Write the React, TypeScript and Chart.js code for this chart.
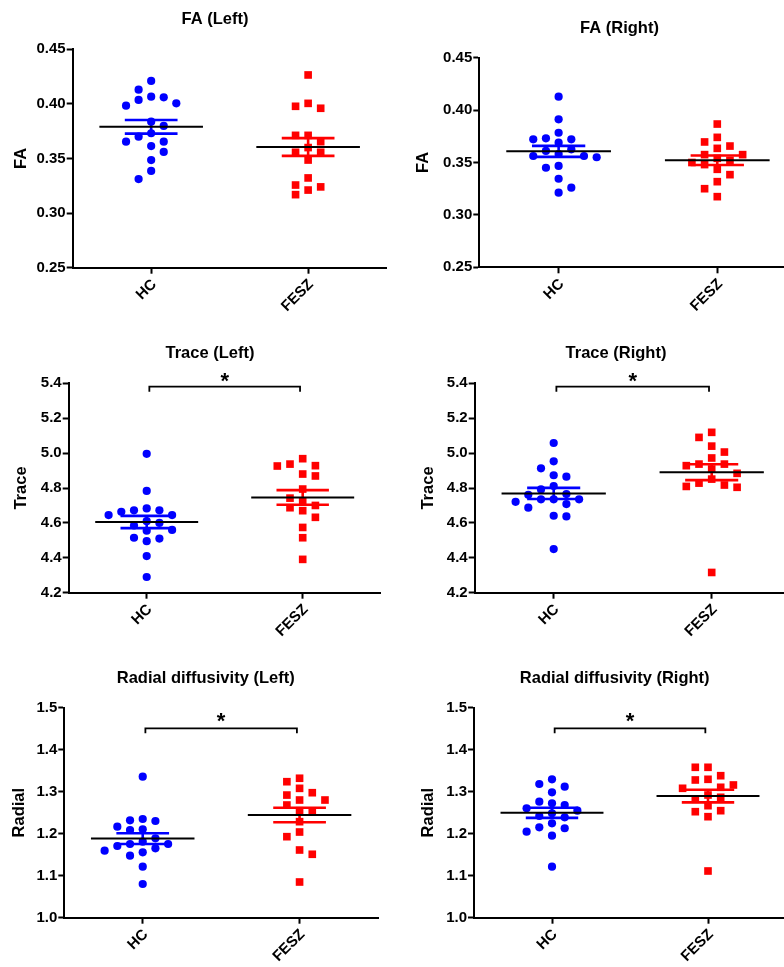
import React, { useEffect, useRef } from "react";
import { Chart, registerables } from "chart.js";

Chart.register(...registerables);
Chart.defaults.font.family = "'Liberation Sans', Arial, Helvetica, sans-serif";
Chart.defaults.color = "#000";

// ---------- data ----------
const groups = ["HC", "FESZ"];

const faLeftHC = [0.421, 0.413, 0.4066, 0.406, 0.4036, 0.4005, 0.3984, 0.3837, 0.3798, 0.3731, 0.37, 0.3654, 0.3654, 0.3614, 0.356, 0.3486, 0.3386, 0.3312];
const faLeftFESZ = [0.4265, 0.4005, 0.3978, 0.396, 0.3712, 0.3712, 0.3654, 0.36, 0.3557, 0.3557, 0.3486, 0.3322, 0.3257, 0.324, 0.3211, 0.3169];
const faRightHC = [0.4128, 0.3912, 0.3784, 0.3731, 0.3721, 0.3721, 0.3689, 0.3626, 0.361, 0.3581, 0.3562, 0.3562, 0.355, 0.3467, 0.345, 0.3345, 0.326, 0.3212];
const faRightFESZ = [0.3867, 0.374, 0.3696, 0.3657, 0.3635, 0.3575, 0.3575, 0.354, 0.352, 0.35, 0.348, 0.3435, 0.3384, 0.3317, 0.325, 0.3174];
const traceLeftHC = [4.996, 4.783, 4.683, 4.672, 4.672, 4.664, 4.645, 4.645, 4.61, 4.6, 4.585, 4.56, 4.555, 4.515, 4.51, 4.495, 4.41, 4.29];
const traceLeftFESZ = [4.968, 4.937, 4.928, 4.926, 4.88, 4.869, 4.794, 4.742, 4.725, 4.7, 4.687, 4.67, 4.632, 4.574, 4.515, 4.391];
const traceRightHC = [5.058, 4.953, 4.913, 4.873, 4.865, 4.811, 4.792, 4.765, 4.761, 4.735, 4.735, 4.735, 4.721, 4.708, 4.687, 4.641, 4.637, 4.45];
const traceRightFESZ = [5.119, 5.09, 5.04, 5.006, 4.972, 4.937, 4.937, 4.928, 4.909, 4.884, 4.851, 4.828, 4.817, 4.809, 4.804, 4.316];
const radialLeftHC = [1.3357, 1.235, 1.2319, 1.2302, 1.2167, 1.2104, 1.2088, 1.189, 1.181, 1.1755, 1.1755, 1.1707, 1.1652, 1.1595, 1.1557, 1.1476, 1.1214, 1.0802];
const radialLeftFESZ = [1.332, 1.3238, 1.308, 1.2976, 1.292, 1.2802, 1.2802, 1.2683, 1.2548, 1.2524, 1.2286, 1.204, 1.1929, 1.1612, 1.151, 1.085];
const radialRightHC = [1.3295, 1.3183, 1.312, 1.2985, 1.2762, 1.2724, 1.2683, 1.2605, 1.2548, 1.2486, 1.2421, 1.239, 1.2248, 1.2152, 1.213, 1.2048, 1.1952, 1.1214];
const radialRightFESZ = [1.3581, 1.3581, 1.3381, 1.3295, 1.3279, 1.316, 1.3105, 1.3081, 1.2921, 1.2867, 1.2819, 1.2667, 1.2548, 1.2524, 1.2405, 1.1112];

const faTicks = [0.25, 0.3, 0.35, 0.4, 0.45];
const traceTicks = [4.2, 4.4, 4.6, 4.8, 5.0, 5.2, 5.4];
const radialTicks = [1.0, 1.1, 1.2, 1.3, 1.4, 1.5];

// ---------- style / layout ----------
const BLUE = "#0000ff";
const RED = "#ff0000";
const FONT = "'Liberation Sans', Arial, Helvetica, sans-serif";
const SLOT_PX = 12.7;
const THR_PX = 9.5;
const MEAN_HALF = 0.33;
const CAP_HALF = 0.168;

type Sig = { y: number; drop: number; starY: number };
type Cfg = {
  title: string; yLabel: string; hc: number[]; fesz: number[]; ticks: number[]; dec: number;
  box: { left: number; top: number; width: number; height: number };
  plot: { left: number; top: number; right: number; bottom: number };
  titleX: number; titleY: number; yLabelX: number; sig?: Sig;
};

const traceSig: Sig = { y: 5.3805, drop: 0.0285, starY: 5.4476 };
const radialSig: Sig = { y: 1.451, drop: 0.012, starY: 1.4826 };

const panels: Cfg[] = [
  { title: "FA (Left)", yLabel: "FA", hc: faLeftHC, fesz: faLeftFESZ, ticks: faTicks, dec: 2,
    box: { left: 0, top: 0, width: 392, height: 320 }, plot: { left: 72.7, top: 49.3, right: 390, bottom: 267.7 },
    titleX: 215, titleY: 24.3, yLabelX: 21 },
  { title: "FA (Right)", yLabel: "FA", hc: faRightHC, fesz: faRightFESZ, ticks: faTicks, dec: 2,
    box: { left: 392, top: 0, width: 410, height: 320 }, plot: { left: 479.3, top: 57.7, right: 797, bottom: 267.3 },
    titleX: 619.5, titleY: 33.2, yLabelX: 423.7 },
  { title: "Trace (Left)", yLabel: "Trace", hc: traceLeftHC, fesz: traceLeftFESZ, ticks: traceTicks, dec: 1,
    box: { left: 0, top: 320, width: 392, height: 325 }, plot: { left: 68.7, top: 383.3, right: 380.7, bottom: 592.7 },
    titleX: 210, titleY: 358.2, yLabelX: 21.7, sig: traceSig },
  { title: "Trace (Right)", yLabel: "Trace", hc: traceRightHC, fesz: traceRightFESZ, ticks: traceTicks, dec: 1,
    box: { left: 392, top: 320, width: 410, height: 325 }, plot: { left: 474.7, top: 383.3, right: 790.7, bottom: 592.7 },
    titleX: 616, titleY: 358.2, yLabelX: 428, sig: traceSig },
  { title: "Radial diffusivity (Left)", yLabel: "Radial", hc: radialLeftHC, fesz: radialLeftFESZ, ticks: radialTicks, dec: 1,
    box: { left: 0, top: 645, width: 392, height: 322 }, plot: { left: 64.3, top: 707.7, right: 378, bottom: 917.7 },
    titleX: 205.7, titleY: 683.2, yLabelX: 19.3, sig: radialSig },
  { title: "Radial diffusivity (Right)", yLabel: "Radial", hc: radialRightHC, fesz: radialRightFESZ, ticks: radialTicks, dec: 1,
    box: { left: 392, top: 645, width: 410, height: 322 }, plot: { left: 474, top: 707.7, right: 786, bottom: 917.7 },
    titleX: 614.7, titleY: 683.2, yLabelX: 428, sig: radialSig },
];

// ---------- helpers ----------
function swarm(values: number[], center: number, slot: number, thr: number): number[] {
  const order = values.map((_, i) => i).sort((a, b) => values[b] - values[a]);
  const placed: { s: number; v: number }[] = [];
  const xs: number[] = new Array(values.length);
  let pref = -1;
  for (const i of order) {
    const v = values[i];
    let chosen = 0;
    for (let k = 0; k < 12; k++) {
      const cands = k === 0 ? [0] : [pref * k, -pref * k];
      let found: number | null = null;
      for (const s of cands) {
        if (!placed.some((p) => p.s === s && Math.abs(p.v - v) < thr)) { found = s; break; }
      }
      if (found !== null) { chosen = found; break; }
    }
    if (chosen !== 0) pref = chosen > 0 ? -1 : 1;
    placed.push({ s: chosen, v });
    xs[i] = center + chosen * slot;
  }
  return xs;
}

function stats(v: number[]) {
  const n = v.length;
  const m = v.reduce((a, b) => a + b, 0) / n;
  const sd = Math.sqrt(v.reduce((a, b) => a + (b - m) * (b - m), 0) / (n - 1));
  return { m, se: sd / Math.sqrt(n) };
}

function semPath(c: number, s: { m: number; se: number }) {
  const t = s.m + s.se, b = s.m - s.se;
  return [
    { x: c - CAP_HALF, y: t }, { x: c + CAP_HALF, y: t }, { x: c, y: null },
    { x: c, y: t }, { x: c, y: b }, { x: c, y: null },
    { x: c - CAP_HALF, y: b }, { x: c + CAP_HALF, y: b },
  ];
}

function Panel({ cfg }: { cfg: Cfg }) {
  const ref = useRef<HTMLCanvasElement>(null);
  useEffect(() => {
    const canvas = ref.current!;
    const b = cfg.box, p = cfg.plot;
    const yMin = cfg.ticks[0], yMax = cfg.ticks[cfg.ticks.length - 1];
    const pxPerX = (p.right - p.left) / 2;
    const pxPerY = (p.bottom - p.top) / (yMax - yMin);
    const slot = SLOT_PX / pxPerX;
    const thr = THR_PX / pxPerY;
    const hcX = swarm(cfg.hc, 1, slot, thr);
    const fzX = swarm(cfg.fesz, 2, slot, thr);
    const sh = stats(cfg.hc), sf = stats(cfg.fesz);

    const datasets: any[] = [
      { type: "scatter", data: cfg.hc.map((v, i) => ({ x: hcX[i], y: v })), pointStyle: "circle", pointRadius: 4.1,
        backgroundColor: BLUE, borderWidth: 0, order: 5, clip: false },
      { type: "scatter", data: cfg.fesz.map((v, i) => ({ x: fzX[i], y: v })), pointStyle: "rect", pointRadius: 5.4,
        backgroundColor: RED, borderWidth: 0, order: 5, clip: false },
      { type: "line", data: semPath(1, sh), borderColor: BLUE, borderWidth: 2.6, pointRadius: 0, spanGaps: false, order: 3, clip: false },
      { type: "line", data: semPath(2, sf), borderColor: RED, borderWidth: 2.6, pointRadius: 0, spanGaps: false, order: 3, clip: false },
      { type: "line", data: [
          { x: 1 - MEAN_HALF, y: sh.m }, { x: 1 + MEAN_HALF, y: sh.m }, { x: 1.5, y: null },
          { x: 2 - MEAN_HALF, y: sf.m }, { x: 2 + MEAN_HALF, y: sf.m }],
        borderColor: "#000", borderWidth: 2, pointRadius: 0, spanGaps: false, order: 1, clip: false },
    ];
    if (cfg.sig) {
      const s = cfg.sig;
      datasets.push({ type: "line", data: [
          { x: 1.017, y: s.y - s.drop }, { x: 1.017, y: s.y }, { x: 1.983, y: s.y }, { x: 1.983, y: s.y - s.drop }],
        borderColor: "#000", borderWidth: 1.8, pointRadius: 0, order: 0, clip: false });
    }

    const textPlugin = {
      id: "panelText",
      afterDraw(chart: any) {
        const ctx = chart.ctx;
        ctx.save();
        ctx.fillStyle = "#000";
        ctx.font = `bold 16.5px ${FONT}`;
        ctx.textAlign = "center";
        ctx.textBaseline = "alphabetic";
        ctx.fillText(cfg.title, cfg.titleX - b.left, cfg.titleY - b.top);
        if (cfg.sig) {
          const x = chart.scales.x.getPixelForValue(1.5);
          const y = chart.scales.y.getPixelForValue(cfg.sig.starY);
          ctx.font = `bold 22px ${FONT}`;
          ctx.fillText("*", x, y + 0.58 * 22);
        }
        ctx.restore();
      },
    };

    const tickFont = { family: FONT, size: 15, weight: "bold" as const };
    const chart = new Chart(canvas, {
      type: "scatter",
      data: { datasets },
      options: {
        animation: false,
        responsive: false,
        events: [],
        layout: { padding: { left: 0, top: p.top - b.top, right: b.left + b.width - p.right, bottom: 0 } },
        plugins: { legend: { display: false }, tooltip: { enabled: false }, title: { display: false } },
        scales: {
          x: {
            type: "linear", min: 0.5, max: 2.5,
            afterBuildTicks: (s: any) => { s.ticks = [{ value: 1 }, { value: 2 }]; },
            afterFit: (s: any) => { s.height = b.top + b.height - p.bottom; },
            ticks: { callback: (v: any) => groups[Number(v) - 1] ?? "", font: tickFont, color: "#000",
              minRotation: 45, maxRotation: 45, padding: 2, labelOffset: 3, autoSkip: false },
            grid: { display: true, drawOnChartArea: false, drawTicks: true, tickLength: 6, tickWidth: 2, tickColor: "#000" },
            border: { display: true, color: "#000", width: 2 },
          },
          y: {
            type: "linear", min: yMin, max: yMax,
            afterBuildTicks: (s: any) => { s.ticks = cfg.ticks.map((v) => ({ value: v })); },
            afterFit: (s: any) => { s.width = p.left - b.left; },
            ticks: { callback: (v: any) => Number(v).toFixed(cfg.dec), font: tickFont, color: "#000", padding: 1 },
            grid: { display: true, drawOnChartArea: false, drawTicks: true, tickLength: 6, tickWidth: 2, tickColor: "#000" },
            border: { display: true, color: "#000", width: 2 },
            title: { display: true, text: cfg.yLabel, color: "#000",
              font: { family: FONT, size: 16.5, weight: "bold", lineHeight: 1 },
              padding: { top: cfg.yLabelX - b.left - 8.25, bottom: 0 } },
          },
        },
      },
      plugins: [textPlugin],
    } as any);
    return () => chart.destroy();
  }, [cfg]);
  return (
    <canvas ref={ref} width={cfg.box.width} height={cfg.box.height}
      style={{ position: "absolute", left: cfg.box.left, top: cfg.box.top, width: cfg.box.width, height: cfg.box.height, display: "block" }} />
  );
}

export default function App() {
  return (
    <div style={{ position: "absolute", left: 0, top: 0, width: 784, height: 967, overflow: "hidden", background: "#fff" }}>
      {panels.map((c) => <Panel key={c.title} cfg={c} />)}
    </div>
  );
}
